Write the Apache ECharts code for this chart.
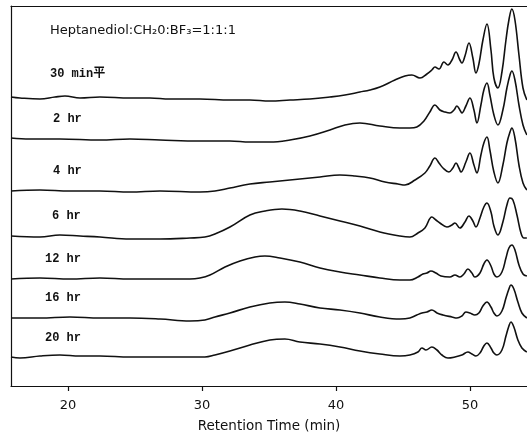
<!DOCTYPE html>
<html>
<head>
<meta charset="utf-8">
<script src="https://cdn.jsdelivr.net/npm/echarts@6/dist/echarts.min.js"></script>
<style>
html,body{margin:0;padding:0;background:#fff;}
#chart{width:527px;height:440px;}
</style>
</head>
<body>
<div id="chart"></div>
<script>
// ---- data (retention time in min, detector response in arbitrary units) ----
const tickValues = [20, 30, 40, 50];
const sampleLabels = ['30 min平', '2 hr', '4 hr', '6 hr', '12 hr', '16 hr', '20 hr'];
const chartTitle = 'Heptanediol:CH₂0:BF₃=1:1:1';
const axisTitle = 'Retention Time (min)';

const trace30min = [[15.75,0],[16.42,-1],[17.91,-2],[19.03,0],[19.78,1],[20.90,-1],[22.39,0],[24.63,-1],[26.12,-1],[27.61,-2],[29.85,-2],[32.09,-3],[33.58,-3],[35.07,-4],[36.57,-3],[38.06,-2],[39.55,0],[40.67,2],[41.79,5],[42.54,7],[43.28,10],[44.40,17],[45.15,21],[45.67,22],[46.27,19],[46.79,23],[47.16,27],[47.39,30],[47.69,28],[48.06,35],[48.36,32],[48.66,37],[48.96,45],[49.25,37],[49.40,34],[49.63,41],[49.93,54],[50.22,39],[50.45,24],[50.67,33],[50.97,57],[51.27,73],[51.57,47],[51.79,19],[52.09,9],[52.39,25],[52.69,57],[52.91,77],[53.13,88],[53.36,77],[53.66,42],[53.96,9],[54.25,-3]];
const trace2hr = [[15.75,0],[17.16,-1],[19.40,-1],[22.39,-2],[24.63,-1],[26.87,-2],[29.85,-3],[32.09,-3],[33.58,-4],[35.07,-4],[36.57,-2],[38.06,2],[39.55,8],[40.67,13],[41.79,15],[43.28,12],[44.78,10],[45.52,10],[46.04,11],[46.57,17],[47.01,26],[47.39,33],[47.76,28],[48.13,26],[48.51,25],[48.81,28],[49.03,32],[49.25,28],[49.40,25],[49.70,32],[50.00,40],[50.30,28],[50.52,15],[50.82,33],[51.04,48],[51.27,55],[51.49,43],[51.79,23],[52.09,13],[52.46,28],[52.76,50],[52.99,63],[53.13,67],[53.36,58],[53.66,33],[53.96,13],[54.25,3]];
const trace4hr = [[15.75,0],[17.91,1],[20.15,0],[22.39,0],[24.63,-1],[26.87,0],[29.85,-1],[30.97,0],[32.09,3],[33.58,7],[35.07,9],[37.31,12],[38.81,14],[40.30,16],[41.42,15],[42.54,13],[43.66,9],[44.63,7],[45.15,6],[45.90,11],[46.64,18],[47.01,25],[47.39,33],[47.69,28],[47.99,23],[48.43,19],[48.73,23],[48.96,28],[49.18,23],[49.33,19],[49.70,29],[50.00,38],[50.30,26],[50.52,18],[50.82,36],[51.04,48],[51.27,54],[51.49,41],[51.79,19],[52.09,8],[52.46,26],[52.76,48],[52.99,59],[53.13,63],[53.36,53],[53.66,26],[53.96,8],[54.25,1]];
const trace6hr = [[15.75,0],[17.91,-1],[19.40,1],[20.90,0],[22.39,-1],[24.63,-3],[26.87,-3],[29.10,-2],[30.22,-1],[30.97,2],[32.09,9],[33.58,21],[34.70,25],[35.97,27],[37.31,25],[38.81,20],[40.30,15],[41.79,10],[43.28,4],[44.78,0],[45.52,-1],[46.12,3],[46.64,8],[47.16,19],[47.46,16],[47.76,13],[48.28,9],[48.66,11],[48.88,13],[49.25,8],[49.63,14],[49.93,20],[50.22,15],[50.45,9],[50.75,18],[51.04,29],[51.27,33],[51.57,24],[51.79,10],[52.09,1],[52.46,14],[52.76,31],[52.99,38],[53.21,36],[53.51,21],[53.81,3],[54.03,-2],[54.25,-2]];
const trace12hr = [[15.75,0],[17.91,1],[20.15,0],[22.39,1],[24.63,0],[26.87,0],[29.10,0],[29.85,1],[30.60,4],[31.72,12],[32.84,18],[33.96,22],[34.70,23],[35.82,21],[37.31,17],[38.81,11],[40.30,7],[41.79,4],[43.28,1],[44.78,-1],[45.52,-1],[46.12,2],[46.49,5],[46.79,6],[47.09,8],[47.46,6],[47.84,3],[48.51,2],[48.88,4],[49.25,2],[49.55,5],[49.85,10],[50.15,6],[50.37,2],[50.75,6],[51.04,15],[51.27,19],[51.57,13],[51.79,5],[52.01,2],[52.39,7],[52.69,21],[52.91,31],[53.13,34],[53.36,29],[53.66,14],[53.96,5],[54.25,3]];
const trace16hr = [[15.75,0],[17.91,0],[20.15,1],[22.39,0],[24.63,0],[26.87,-1],[29.10,-3],[30.22,-2],[30.97,1],[32.09,5],[33.58,11],[35.07,15],[36.19,16],[37.31,14],[38.81,10],[40.30,8],[41.79,5],[43.28,1],[44.78,-1],[45.52,0],[46.04,3],[46.42,5],[46.79,6],[47.16,8],[47.54,5],[47.99,3],[48.66,1],[49.03,0],[49.40,2],[49.70,6],[50.00,5],[50.37,3],[50.67,5],[50.97,12],[51.27,16],[51.57,11],[51.79,5],[52.01,2],[52.39,7],[52.69,20],[52.91,29],[53.06,33],[53.28,29],[53.58,16],[53.88,5],[54.25,0]];
const trace20hr = [[15.75,0],[16.42,-1],[17.91,1],[19.40,2],[20.90,1],[22.39,1],[24.63,0],[26.87,0],[29.10,0],[30.22,0],[30.97,2],[32.09,6],[33.58,12],[35.07,17],[36.19,18],[37.31,15],[38.81,13],[40.30,10],[41.79,6],[43.28,3],[44.78,1],[45.52,2],[46.12,5],[46.42,9],[46.72,7],[47.16,10],[47.54,7],[47.91,2],[48.36,-1],[48.88,0],[49.40,2],[49.85,5],[50.15,3],[50.45,1],[50.75,4],[51.04,11],[51.27,14],[51.57,9],[51.79,4],[52.01,2],[52.39,7],[52.69,21],[52.91,31],[53.06,35],[53.28,30],[53.58,17],[53.88,9],[54.25,5]];

const traces = [trace30min, trace2hr, trace4hr, trace6hr, trace12hr, trace16hr, trace20hr];

// ---- layout (stack offsets and label positions) ----
const traceOffsets = [289, 248, 195, 150, 107, 68, 29];
const labelPos = [[50,75],[53,120],[53,172],[52,217],[45,260],[45,299],[45,339]];
const ink = '#111';
const xMin = 15.75, xMax = 54.26;

const chart = echarts.init(document.getElementById('chart'), null, {renderer: 'canvas'});

const series = traces.map((tr, i) => ({
  type: 'line',
  data: tr.map(p => [p[0], p[1] + traceOffsets[i]]),
  showSymbol: false,
  smooth: 0.4,
  lineStyle: {color: ink, width: 1.6},
  silent: true
}));

const graphics = sampleLabels.map((t, i) => ({
  type: 'text',
  left: labelPos[i][0],
  top: labelPos[i][1] - 7,
  style: {
    text: t,
    fill: ink,
    font: 'bold 12px "Liberation Mono", "Noto Sans CJK SC", monospace'
  }
}));
graphics.push({
  type: 'text',
  left: 50,
  top: 24,
  style: {
    text: chartTitle,
    fill: ink,
    font: '13px "DejaVu Sans", sans-serif'
  }
});

chart.setOption({
  animation: false,
  backgroundColor: '#fff',
  grid: {left: 11, right: 0, top: 6, bottom: 54, show: false},
  xAxis: [{
    type: 'value',
    position: 'bottom',
    min: xMin,
    max: xMax,
    axisLine: {show: true, onZero: false, lineStyle: {color: ink, width: 1.2}},
    axisTick: {show: true, customValues: tickValues, length: 5, inside: false, lineStyle: {color: ink, width: 1.2}},
    axisLabel: {customValues: tickValues, fontFamily: 'DejaVu Sans', fontSize: 13, color: ink, margin: 13},
    splitLine: {show: false},
    name: axisTitle,
    nameLocation: 'middle',
    nameGap: 33,
    nameTextStyle: {fontFamily: 'DejaVu Sans', fontSize: 13.5, color: ink}
  }, {
    type: 'value',
    position: 'top',
    min: xMin,
    max: xMax,
    axisLine: {show: true, onZero: false, lineStyle: {color: ink, width: 1.2}},
    axisTick: {show: false},
    axisLabel: {show: false},
    splitLine: {show: false}
  }],
  yAxis: {
    type: 'value', min: 0, max: 380,
    axisLine: {show: true, onZero: false, lineStyle: {color: ink, width: 1.2}},
    axisTick: {show: false},
    axisLabel: {show: false},
    splitLine: {show: false}
  },
  series: series,
  graphic: graphics
});
</script>
</body>
</html>
